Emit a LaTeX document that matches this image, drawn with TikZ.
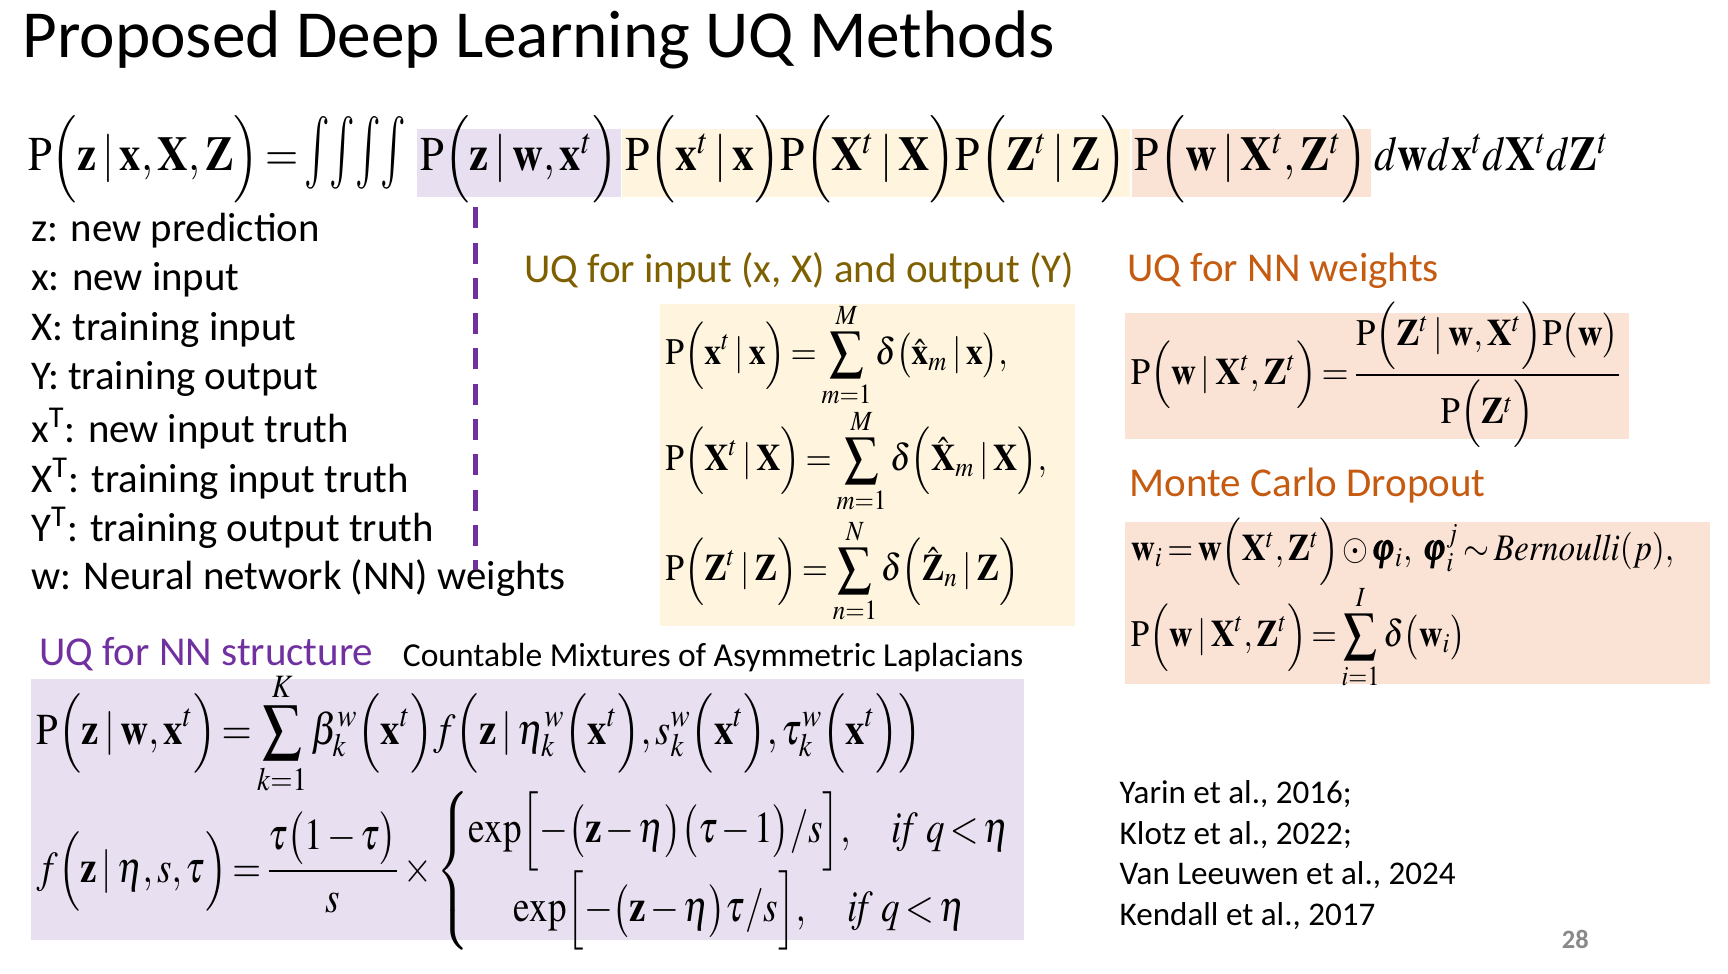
\documentclass[tikz,border=0pt]{standalone}
\usepackage{amsmath}
\usepackage{graphicx}
\usepackage{mathptmx}
\usepackage[no-math]{fontspec}
\setmainfont{Carlito}
\usetikzlibrary{positioning}

\definecolor{boxpurple}{RGB}{232,224,241}
\definecolor{boxyellow}{RGB}{255,245,222}
\definecolor{boxpeach}{RGB}{250,226,213}
\definecolor{headolive}{RGB}{127,96,0}
\definecolor{headorange}{RGB}{197,90,17}
\definecolor{headpurple}{RGB}{112,48,160}
\definecolor{pagegray}{RGB}{137,137,137}

\newcommand{\Prb}[1]{\mathrm{P}\Bigl(#1\Bigr)}
\newcommand{\tallint}{\mathop{\scalebox{1}[1.5]{$\textstyle\int$}}}
\newcommand{\squeeze}[2][0.88]{\scalebox{#1}[1]{#2}}
\thinmuskip=2mu
\medmuskip=2mu
\thickmuskip=2.5mu

\begin{document}
\begin{tikzpicture}[
    x=0.5pt, y=-0.5pt,
    titletext/.style={anchor=west, inner sep=0pt, font=\fontsize{30.5}{36}\selectfont},
    listtext/.style={anchor=west, inner sep=0pt, font=\fontsize{18.5}{22}\selectfont},
    headtext/.style={anchor=west, inner sep=0pt, font=\fontsize{18.6}{22}\selectfont},
    reftext/.style={anchor=west, inner sep=0pt, font=\fontsize{15}{18}\selectfont},
    eqpart/.style={inner xsep=1.5pt, inner ysep=0pt, text height=19pt, text depth=12pt,
        font=\fontsize{22}{26}\selectfont},
    eqbig/.style={anchor=west, inner sep=0pt, font=\fontsize{20}{24}\selectfont},
    eqsmall/.style={anchor=west, inner sep=0pt, font=\fontsize{17}{20}\selectfont},
    colorbox/.style={anchor=north west, inner sep=0pt, draw=none},
    divider/.style={headpurple, line width=2.5pt, dash pattern=on 9.5pt off 6.5pt}
    ]
    \useasboundingbox (0,0) rectangle (1567,883);

    \node[titletext] (title) at (20,36) {Proposed Deep Learning UQ Methods};

    % full predictive distribution, split in coloured parts
    \node[eqpart, anchor=west] (lhs) at (22,148)
        {\squeeze{$\Prb{\mathbf z\mid\mathbf x,\mathbf X,\mathbf Z}=\tallint\!\tallint\!\tallint\!\tallint$}};
    \node[eqpart, fill=boxpurple, right=3pt of lhs] (pstruct)
        {\squeeze{$\Prb{\mathbf z\mid\mathbf w,\mathbf x^t}$}};
    \node[eqpart, fill=boxyellow, right=0pt of pstruct] (pinput)
        {\squeeze[0.9]{$\Prb{\mathbf x^t\mid\mathbf x}\Prb{\mathbf X^t\mid\mathbf X}\Prb{\mathbf Z^t\mid\mathbf Z}$}};
    \node[eqpart, fill=boxpeach, right=0.5pt of pinput] (pweight)
        {\squeeze[0.9]{$\Prb{\mathbf w\mid\mathbf X^t,\mathbf Z^t}$}};
    \node[eqpart, right=0pt of pweight] (diffs)
        {\squeeze[0.86]{$d\mathbf w d\mathbf x^t d\mathbf X^t d\mathbf Z^t$}};

    % symbols
    \foreach \y/\name/\txt in {209/sz/{z: new prediction},
        254/sx/{x: new input},
        299/sX/{X: training input},
        344/sY/{Y: training output},
        389/sxt/{x\textsuperscript{T}: new input truth},
        434/sXt/{X\textsuperscript{T}: training input truth},
        479/sYt/{Y\textsuperscript{T}: training output truth},
        524/sw/{w: Neural network (NN) weights}}
        \node[listtext] (\name) at (28,\y) {\txt};

    \coordinate (dtop) at (431,188);
    \coordinate (dbot) at (431,517);
    \draw[divider] (dtop) -- (dbot);

    % input / output
    \node[headtext, text=headolive] (hinput) at (475,246) {UQ for input (x, X) and output (Y)};
    \node[colorbox, fill=boxyellow, minimum width=188pt, minimum height=146pt] (binput) at (598,275) {};
    \node[eqsmall] (einx) at (603,322)
        {\squeeze[0.9]{$\displaystyle\Prb{\mathbf x^t\mid\mathbf x}=\sum_{m=1}^{M}\delta\bigl(\hat{\mathbf x}_m\mid\mathbf x\bigr),$}};
    \node[eqsmall] (einX) at (603,418)
        {\squeeze[0.9]{$\displaystyle\Prb{\mathbf X^t\mid\mathbf X}=\sum_{m=1}^{M}\delta\Bigl(\hat{\mathbf X}_m\mid\mathbf X\Bigr),$}};
    \node[eqsmall] (einZ) at (603,518)
        {\squeeze[0.9]{$\displaystyle\Prb{\mathbf Z^t\mid\mathbf Z}=\sum_{n=1}^{N}\delta\Bigl(\hat{\mathbf Z}_n\mid\mathbf Z\Bigr)$}};

    % weights
    \node[headtext, text=headorange] (hweight) at (1022,246) {UQ for NN weights};
    \node[colorbox, fill=boxpeach, minimum width=228.5pt, minimum height=57.5pt] (bweight) at (1020,283) {};
    \node[eqsmall] (ebayes) at (1025,340)
        {\squeeze[0.93]{$\Prb{\mathbf w\mid\mathbf X^t,\mathbf Z^t}=\dfrac{\Prb{\mathbf Z^t\mid\mathbf w,\mathbf X^t}\mathrm{P}\bigl(\mathbf w\bigr)}{\Prb{\mathbf Z^t}}$}};

    \node[headtext, text=headorange] (hdrop) at (1024,440) {Monte Carlo Dropout};
    \node[colorbox, fill=boxpeach, minimum width=265pt, minimum height=73.5pt] (bdrop) at (1020,473) {};
    \node[eqsmall] (edrop) at (1025,500)
        {\squeeze[0.89]{$\mathbf w_i=\mathbf w\Bigl(\mathbf X^t,\mathbf Z^t\Bigr)\odot\pmb{\varphi}_i,\ \pmb{\varphi}_i^j\sim\mathit{Bernoulli}(p),$}};
    \node[eqsmall] (esum) at (1025,578)
        {\squeeze{$\displaystyle\Prb{\mathbf w\mid\mathbf X^t,\mathbf Z^t}=\sum_{i=1}^{I}\delta\bigl(\mathbf w_i\bigr)$}};

    % structure
    \node[headtext, text=headpurple] (hstruct) at (35,593) {UQ for NN structure};
    \node[listtext, font=\fontsize{15.2}{18}\selectfont] (hmix) at (365,596)
        {Countable Mixtures of Asymmetric Laplacians};
    \node[colorbox, fill=boxpurple, minimum width=450pt, minimum height=118.5pt] (bstruct) at (28,615) {};
    \node[eqbig] (emix) at (33,665)
        {\squeeze{$\displaystyle\Prb{\mathbf z\mid\mathbf w,\mathbf x^t}=\sum_{k=1}^{K}\beta_k^w\Bigl(\mathbf x^t\Bigr)f\Bigl(\mathbf z\mid\eta_k^w\Bigl(\mathbf x^t\Bigr),s_k^w\Bigl(\mathbf x^t\Bigr),\tau_k^w\Bigl(\mathbf x^t\Bigr)\Bigr)$}};
    \node[eqbig] (elap) at (33,790)
        {\squeeze[0.84]{$\displaystyle f\Bigl(\mathbf z\mid\eta,s,\tau\Bigr)=\frac{\tau\bigl(1-\tau\bigr)}{s}\times\left\{\begin{array}{@{}c@{}}
        \exp\Bigl[-\bigl(\mathbf z-\eta\bigr)\bigl(\tau-1\bigr)/s\Bigr],\quad\mathit{if}\ q<\eta\\
        \exp\Bigl[-\bigl(\mathbf z-\eta\bigr)\tau/s\Bigr],\quad\mathit{if}\ q<\eta
        \end{array}\right.$}};

    % references
    \foreach \y/\name/\txt in {720/rya/{Yarin et al., 2016;},
        757/rkl/{Klotz et al., 2022;},
        794/rvl/{Van Leeuwen et al., 2024},
        831/rke/{Kendall et al., 2017}}
        \node[reftext] (\name) at (1015,\y) {\txt};
    \node[reftext, font=\bfseries\fontsize{12}{14}\selectfont, text=pagegray] (pnum) at (1416,852) {28};
\end{tikzpicture}
\end{document}
